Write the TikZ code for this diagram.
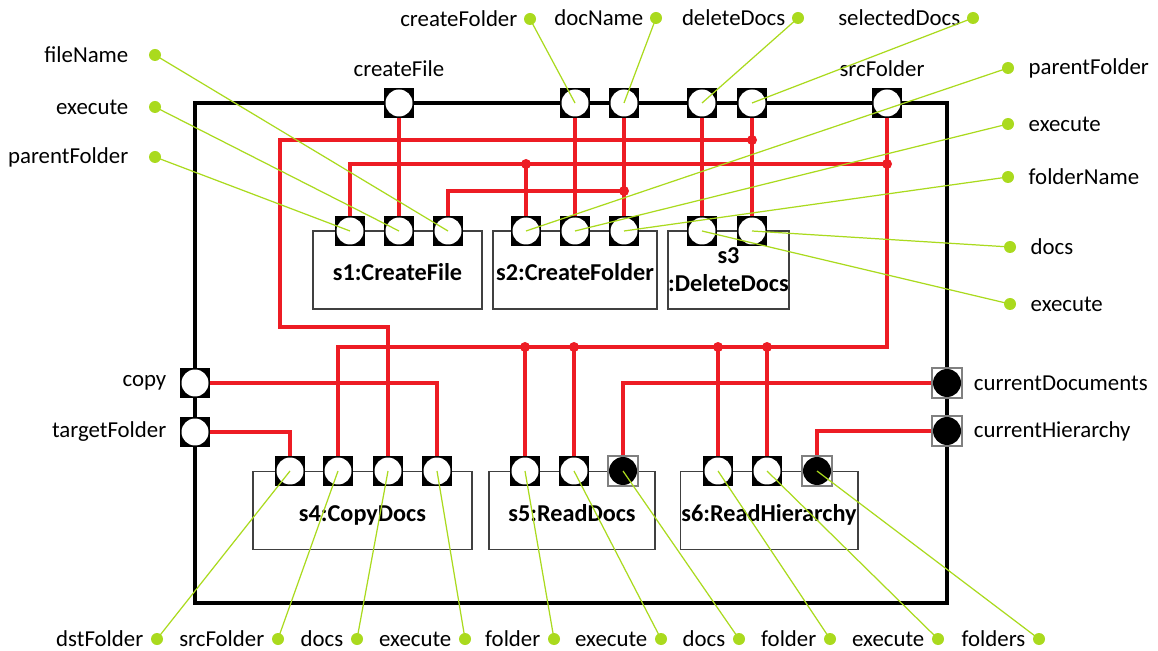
\documentclass[tikz,border=0pt]{standalone}
\usepackage{fontspec}
\setmainfont{Carlito}
\usetikzlibrary{positioning, backgrounds}
\definecolor{wirered}{RGB}{237,28,36}
\definecolor{notegreen}{RGB}{170,218,30}

\begin{document}
\begin{tikzpicture}[
    x=0.02cm, y=-0.02cm,
    font=\fontsize{13}{15}\selectfont,
    port/.style={rectangle, fill=black, minimum size=0.6cm, inner sep=0pt,
        path picture={\fill[white] (path picture bounding box.center) circle (0.27cm);}},
    oport/.style={rectangle, fill=white, draw=gray, line width=0.6pt, minimum size=0.6cm, inner sep=0pt,
        path picture={\fill[black] (path picture bounding box.center) circle (0.28cm);}},
    part/.style={draw=black!75, line width=0.6pt, inner sep=0pt, align=center,
        minimum height=1.56cm, font=\fontsize{13.8}{16}\selectfont\bfseries},
    partline/.style={part, text height=0.43cm, text depth=0pt},
    wire/.style={wirered, line width=2.3pt},
    jdot/.style={circle, fill=wirered, inner sep=0pt, minimum size=0.2cm},
    note/.style={notegreen, line width=0.7pt},
    gdot/.style={circle, fill=notegreen, inner sep=0pt, minimum size=0.24cm},
    lbl/.style={inner sep=0pt}
]
\useasboundingbox (0,0) rectangle (1158,651);

% Frame
\draw[line width=2.8pt] (195,103) rectangle (947,603);

% Parts
\node[partline, minimum width=3.38cm] (s1) at (397.5,270) {s1:CreateFile};
\node[partline, minimum width=3.28cm] (s2) at (575,270) {s2:CreateFolder};
\node[part, minimum width=2.42cm] (s3) at (728.5,270) {s3\\:DeleteDocs};
\node[partline, minimum width=4.38cm] (s4) at (362.5,510.5) {s4:CopyDocs};
\node[partline, minimum width=3.32cm] (s5) at (572,510.5) {s5:ReadDocs};
\node[partline, minimum width=3.56cm] (s6) at (769,510.5) {s6:ReadHierarchy};

% Outer ports
\node[port] (pCreateFile) at (399,103) {};
\node[port] (pCreateFolder) at (575,103) {};
\node[port] (pDocName) at (624,103) {};
\node[port] (pDeleteDocs) at (702,103) {};
\node[port] (pSelectedDocs) at (752,103) {};
\node[port] (pSrcFolder) at (887,103) {};
\node[port] (pCopy) at (195,383) {};
\node[port] (pTarget) at (195,432) {};
\node[oport] (pCurDocs) at (947,383) {};
\node[oport] (pCurHier) at (947,431) {};

\node[lbl, above=0.22cm of pCreateFile] (tCreateFile) {createFile};
\node[lbl, above=0.22cm of pSrcFolder, xshift=-0.1cm] (tSrcFolder) {srcFolder};
\node[lbl, left=0.26cm of pCopy] (tCopy) {copy};
\node[lbl, left=0.26cm of pTarget] (tTarget) {targetFolder};
\node[lbl, right=0.22cm of pCurDocs] (tCurDocs) {currentDocuments};
\node[lbl, right=0.22cm of pCurHier] (tCurHier) {currentHierarchy};

% Part ports
\node[port] (s1a) at (350,231) {};
\node[port] (s1b) at (399,231) {};
\node[port] (s1c) at (448,231) {};
\node[port] (s2a) at (526,231) {};
\node[port] (s2b) at (575,231) {};
\node[port] (s2c) at (624,231) {};
\node[port] (s3a) at (702,231) {};
\node[port] (s3b) at (752,231) {};
\node[port] (s4a) at (290,471) {};
\node[port] (s4b) at (338,471) {};
\node[port] (s4c) at (388,471) {};
\node[port] (s4d) at (437,471) {};
\node[port] (s5a) at (525,471) {};
\node[port] (s5b) at (574,471) {};
\node[oport] (s5c) at (623,471) {};
\node[port] (s6a) at (718,471) {};
\node[port] (s6b) at (767,471) {};
\node[oport] (s6c) at (817,471) {};

% Wires
\coordinate (jSel) at (752,140);
\coordinate (jSrc) at (887,164);
\coordinate (jDoc) at (624,191);
\coordinate (jBus) at (887,347);
\begin{scope}[on background layer]
\draw[wire] (pCreateFile.center) -- (s1b.center);
\draw[wire] (pCreateFolder.center) -- (s2b.center);
\draw[wire] (pDocName.center) -- (s2c.center);
\draw[wire] (pDeleteDocs.center) -- (s3a.center);
\draw[wire] (pSelectedDocs.center) -- (s3b.center);
\draw[wire] (pSrcFolder.center) -- (jBus) -| (s4b.center);
\draw[wire] (jSrc) -| (s1a.center);
\draw[wire] (s2a |- jSrc) -- (s2a.center);
\draw[wire] (jDoc) -| (s1c.center);
\draw[wire] (jSel) -- (280,140) -- (280,327) -| (s4c.center);
\draw[wire] (s5a |- jBus) -- (s5a.center);
\draw[wire] (s5b |- jBus) -- (s5b.center);
\draw[wire] (s6a |- jBus) -- (s6a.center);
\draw[wire] (s6b |- jBus) -- (s6b.center);
\draw[wire] (pCopy.center) -| (s4d.center);
\draw[wire] (pTarget.center) -| (s4a.center);
\draw[wire] (pCurDocs.center) -| (s5c.center);
\draw[wire] (pCurHier.center) -| (s6c.center);
\end{scope}
\node[jdot] (kSel) at (jSel) {};
\node[jdot] (kSrc) at (jSrc) {};
\node[jdot] (kPar) at (s2a |- jSrc) {};
\node[jdot] (kDoc) at (jDoc) {};
\node[jdot] (k5a) at (s5a |- jBus) {};
\node[jdot] (k5b) at (s5b |- jBus) {};
\node[jdot] (k6a) at (s6a |- jBus) {};
\node[jdot] (k6b) at (s6b |- jBus) {};

% Notes, left and top
\node[gdot] (dFileName) at (155,55) {};
\node[gdot] (dExec1) at (155,107) {};
\node[gdot] (dParent1) at (155,157) {};
\node[gdot] (dCreateFolder) at (530,19) {};
\node[gdot] (dDocName) at (656,18) {};
\node[gdot] (dDeleteDocs) at (798,18) {};
\node[gdot] (dSelectedDocs) at (973,18) {};
\node[lbl, left=0.4cm of dFileName] (tFileName) {fileName};
\node[lbl, left=0.4cm of dExec1] (tExec1) {execute};
\node[lbl, left=0.4cm of dParent1] (tParent1) {parentFolder};
\node[lbl, left=0.12cm of dCreateFolder] (tCreateFolder) {createFolder};
\node[lbl, left=0.12cm of dDocName] (tDocName) {docName};
\node[lbl, left=0.12cm of dDeleteDocs] (tDeleteDocs) {deleteDocs};
\node[lbl, left=0.12cm of dSelectedDocs] (tSelectedDocs) {selectedDocs};
\draw[note] (dFileName.center) -- (s1c.center);
\draw[note] (dExec1.center) -- (s1b.center);
\draw[note] (dParent1.center) -- (s1a.center);
\draw[note] (dCreateFolder.center) -- (pCreateFolder.center);
\draw[note] (dDocName.center) -- (pDocName.center);
\draw[note] (dDeleteDocs.center) -- (pDeleteDocs.center);
\draw[note] (dSelectedDocs.center) -- (pSelectedDocs.center);

% Notes, right
\node[gdot] (dParent2) at (1008,68) {};
\node[gdot] (dExec2) at (1008,124) {};
\node[gdot] (dFolderName) at (1008,177) {};
\node[gdot] (dDocs3) at (1010,247) {};
\node[gdot] (dExec3) at (1010,304) {};
\node[lbl, right=0.28cm of dParent2] (tParent2) {parentFolder};
\node[lbl, right=0.28cm of dExec2] (tExec2) {execute};
\node[lbl, right=0.28cm of dFolderName] (tFolderName) {folderName};
\node[lbl, right=0.28cm of dDocs3] (tDocs3) {docs};
\node[lbl, right=0.28cm of dExec3] (tExec3) {execute};
\draw[note] (dParent2.center) -- (s2a.center);
\draw[note] (dExec2.center) -- (s2b.center);
\draw[note] (dFolderName.center) -- (s2c.center);
\draw[note] (dDocs3.center) -- (s3b.center);
\draw[note] (dExec3.center) -- (s3a.center);

% Notes, bottom
\node[gdot] (dDst4) at (157,639) {};
\node[gdot] (dSrc4) at (278,639) {};
\node[gdot] (dDocs4) at (357,639) {};
\node[gdot] (dExec4) at (465,639) {};
\node[gdot] (dFolder5) at (554,639) {};
\node[gdot] (dExec5) at (661,639) {};
\node[gdot] (dDocs5) at (739,639) {};
\node[gdot] (dFolder6) at (830,639) {};
\node[gdot] (dExec6) at (938,639) {};
\node[gdot] (dFolders6) at (1039,639) {};
\node[lbl, left=0.14cm of dDst4] (tDst4) {dstFolder};
\node[lbl, left=0.14cm of dSrc4] (tSrc4) {srcFolder};
\node[lbl, left=0.14cm of dDocs4] (tDocs4) {docs};
\node[lbl, left=0.14cm of dExec4] (tExec4) {execute};
\node[lbl, left=0.14cm of dFolder5] (tFolder5) {folder};
\node[lbl, left=0.14cm of dExec5] (tExec5) {execute};
\node[lbl, left=0.14cm of dDocs5] (tDocs5) {docs};
\node[lbl, left=0.14cm of dFolder6] (tFolder6) {folder};
\node[lbl, left=0.14cm of dExec6] (tExec6) {execute};
\node[lbl, left=0.14cm of dFolders6] (tFolders6) {folders};
\draw[note] (dDst4.center) -- (s4a.center);
\draw[note] (dSrc4.center) -- (s4b.center);
\draw[note] (dDocs4.center) -- (s4c.center);
\draw[note] (dExec4.center) -- (s4d.center);
\draw[note] (dFolder5.center) -- (s5a.center);
\draw[note] (dExec5.center) -- (s5b.center);
\draw[note] (dDocs5.center) -- (s5c.center);
\draw[note] (dFolder6.center) -- (s6a.center);
\draw[note] (dExec6.center) -- (s6b.center);
\draw[note] (dFolders6.center) -- (s6c.center);

\end{tikzpicture}
\end{document}
